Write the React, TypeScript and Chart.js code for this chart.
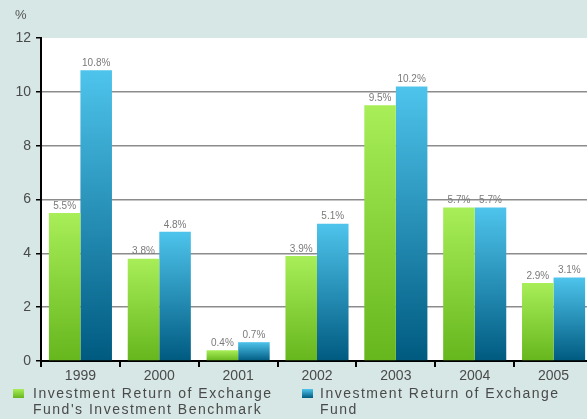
import React, { useEffect, useRef } from "react";
import { Chart, registerables } from "chart.js";

Chart.register(...registerables);

const categories = ["1999", "2000", "2001", "2002", "2003", "2004", "2005"];
const benchmarkValues = [5.5, 3.8, 0.4, 3.9, 9.5, 5.7, 2.9];
const fundValues = [10.8, 4.8, 0.7, 5.1, 10.2, 5.7, 3.1];
const benchmarkLabels = ["5.5%", "3.8%", "0.4%", "3.9%", "9.5%", "5.7%", "2.9%"];
const fundLabels = ["10.8%", "4.8%", "0.7%", "5.1%", "10.2%", "5.7%", "3.1%"];
const yTicks = [0, 2, 4, 6, 8, 10, 12];
const legendBenchmark = ["Investment Return of Exchange", "Fund's Investment Benchmark"];
const legendFund = ["Investment Return of Exchange", "Fund"];

const BG = "#d6e7e5";
const FONT = "'Liberation Sans', Arial, sans-serif";

function gradientFor(ctx: any, top: string, bottom: string) {
  const chart = ctx.chart;
  const y = chart.scales?.y;
  if (!y || ctx.type !== "data") return top;
  const v = ctx.raw as number;
  const yTop = y.getPixelForValue(v);
  const yBot = y.getPixelForValue(0);
  if (!Number.isFinite(yTop) || !Number.isFinite(yBot) || yTop === yBot) return top;
  const g = chart.ctx.createLinearGradient(0, yTop, 0, yBot);
  g.addColorStop(0, top);
  g.addColorStop(1, bottom);
  return g;
}

const whiteArea = {
  id: "whiteArea",
  beforeDraw(chart: any) {
    const { ctx, chartArea } = chart;
    ctx.save();
    ctx.fillStyle = "#ffffff";
    ctx.fillRect(chartArea.left, chartArea.top, chart.width - chartArea.left, chartArea.bottom - chartArea.top);
    ctx.restore();
  },
};

const valueLabels = {
  id: "valueLabels",
  afterDatasetsDraw(chart: any) {
    const { ctx } = chart;
    const labelSets = [benchmarkLabels, fundLabels];
    ctx.save();
    ctx.font = `10px ${FONT}`;
    ctx.fillStyle = "#7a7a7a";
    ctx.textAlign = "center";
    ctx.textBaseline = "bottom";
    chart.data.datasets.forEach((_: any, di: number) => {
      const meta = chart.getDatasetMeta(di);
      meta.data.forEach((el: any, i: number) => {
        ctx.fillText(labelSets[di][i], el.x, el.y - 2);
      });
    });
    ctx.restore();
  },
};

export default function App() {
  const ref = useRef<HTMLCanvasElement>(null);
  useEffect(() => {
    if (!ref.current) return;
    const chart = new Chart(ref.current, {
      type: "bar",
      data: {
        labels: categories,
        datasets: [
          {
            label: legendBenchmark.join(" "),
            data: benchmarkValues,
            backgroundColor: (c: any) => gradientFor(c, "#a8ee58", "#66b61e"),
            borderWidth: 0,
            categoryPercentage: 0.8,
            barPercentage: 1.0,
          },
          {
            label: legendFund.join(" "),
            data: fundValues,
            backgroundColor: (c: any) => gradientFor(c, "#4ec4ec", "#005a80"),
            borderWidth: 0,
            categoryPercentage: 0.8,
            barPercentage: 1.0,
          },
        ],
      },
      options: {
        animation: false,
        responsive: false,
        devicePixelRatio: 1,
        layout: { padding: { top: 38, right: 2, left: 0, bottom: 0 } },
        plugins: { legend: { display: false }, tooltip: { enabled: false } },
        scales: {
          x: {
            afterFit: (s: any) => {
              s.height = 58;
            },
            border: { display: true, color: "#000", width: 2 },
            grid: { drawOnChartArea: false, drawTicks: true, tickLength: 6, tickColor: "#000", lineWidth: 2 },
            ticks: { color: "#4a4a4a", font: { family: FONT, size: 14 }, padding: 1 },
          },
          y: {
            min: 0,
            max: 12,
            afterFit: (s: any) => {
              s.width = 41;
            },
            afterBuildTicks: (s: any) => {
              s.ticks = yTicks.map((v) => ({ value: v }));
            },
            border: { display: true, color: "#000", width: 2 },
            grid: {
              color: (c: any) => (c.tick && (c.tick.value === 12 || c.tick.value === 0) ? "rgba(0,0,0,0)" : "#8c8c8c"),
              lineWidth: 1.5,
              tickLength: 5,
              tickColor: "#000",
            },
            ticks: { color: "#4a4a4a", font: { family: FONT, size: 14 }, padding: 5 },
          },
        },
      },
      plugins: [whiteArea, valueLabels],
    });
    return () => chart.destroy();
  }, []);

  const legendText: React.CSSProperties = {
    position: "absolute",
    fontFamily: FONT,
    fontSize: 14,
    letterSpacing: "1.5px",
    lineHeight: "16px",
    color: "#4a4a4a",
    whiteSpace: "nowrap",
  };

  return (
    <div style={{ position: "fixed", left: 0, top: 0, width: 587, height: 419, overflow: "hidden", background: BG }}>
      <canvas ref={ref} width={595} height={419} style={{ position: "absolute", left: 0, top: 0 }} />
      <div style={{ position: "absolute", left: 15, top: 7, fontFamily: FONT, fontSize: 13, color: "#555" }}>%</div>
      <div style={{ position: "absolute", left: 13, top: 389, width: 11, height: 9, background: "linear-gradient(#a8ee58, #66b61e)" }} />
      <div style={{ ...legendText, left: 33, top: 385 }}>
        {legendBenchmark.map((t) => (
          <div key={t}>{t}</div>
        ))}
      </div>
      <div style={{ position: "absolute", left: 302, top: 389, width: 11, height: 9, background: "linear-gradient(#4ec4ec, #005a80)" }} />
      <div style={{ ...legendText, left: 320, top: 385 }}>
        {legendFund.map((t) => (
          <div key={t}>{t}</div>
        ))}
      </div>
    </div>
  );
}
